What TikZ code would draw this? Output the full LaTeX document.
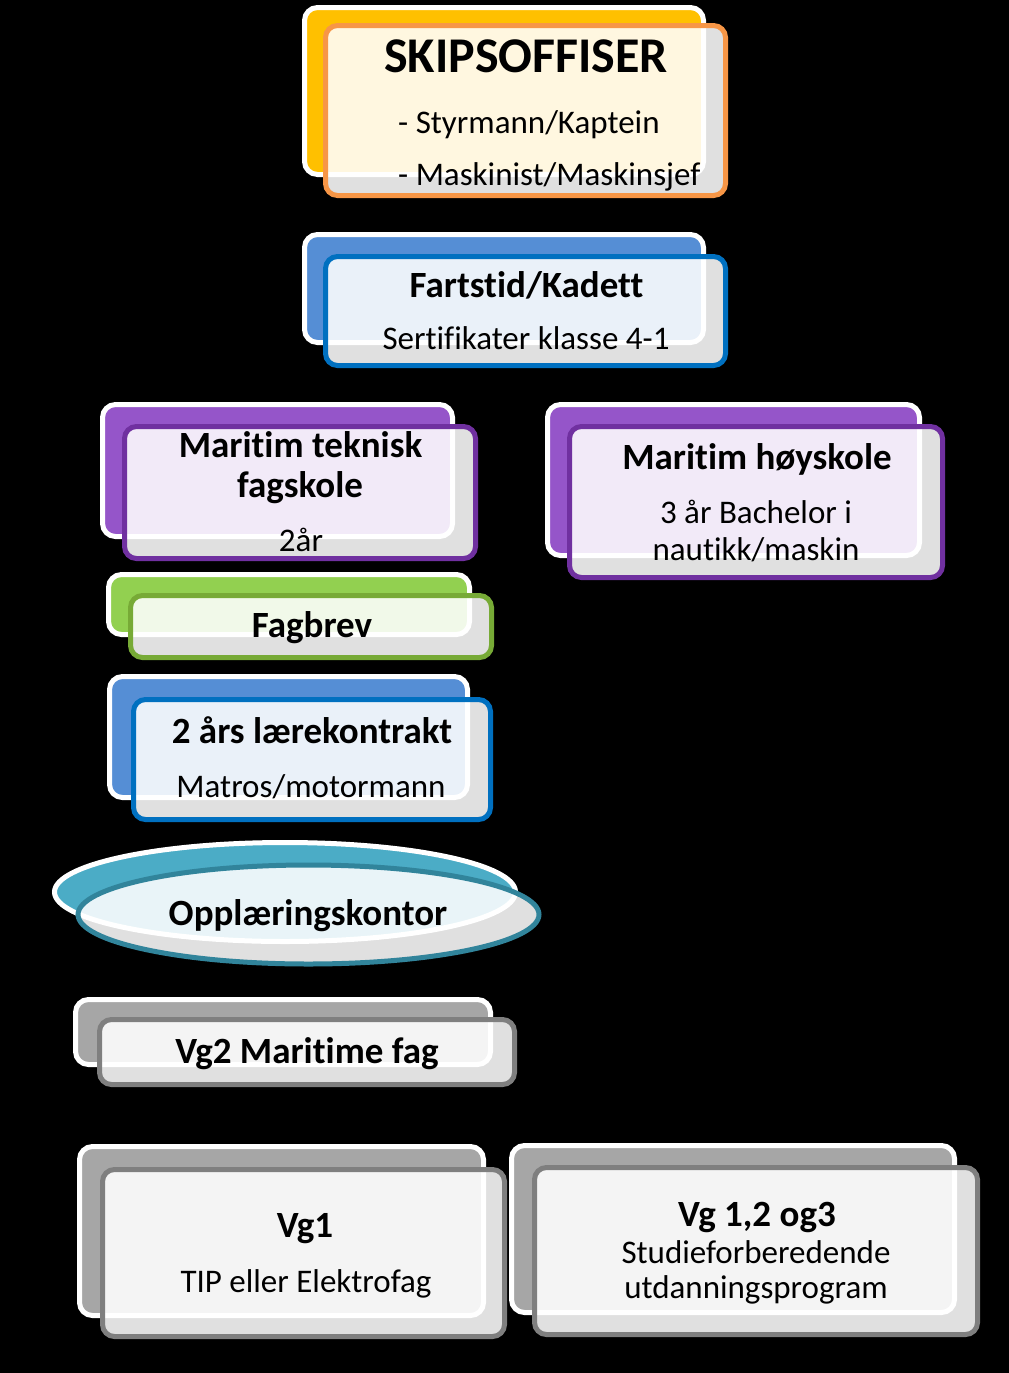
\documentclass[tikz,border=0pt]{standalone}
\usepackage{fontspec}
\setmainfont{Carlito}[Ligatures={NoCommon}]
\definecolor{cYellow}{HTML}{FFC000}
\definecolor{cOrange}{HTML}{F79646}
\definecolor{cBlueBack}{HTML}{558ED5}
\definecolor{cBlueLine}{HTML}{0070C0}
\definecolor{cPurpBack}{HTML}{9555C9}
\definecolor{cPurpLine}{HTML}{7030A0}
\definecolor{cGreenBack}{HTML}{92D050}
\definecolor{cGreenLine}{HTML}{77AA36}
\definecolor{cTealBack}{HTML}{4BACC6}
\definecolor{cTealLine}{HTML}{31849B}
\definecolor{cGrayBack}{HTML}{A6A6A6}
\definecolor{cGrayLine}{HTML}{7F7F7F}
\tikzset{
  backbox/.style={draw=white, line width=5pt, rounded corners=13pt},
  frontbox/.style={fill=white, fill opacity=0.88, line width=5pt, rounded corners=12pt},
  title/.style={font=\fontsize{50}{56}\selectfont\bfseries, inner sep=0pt, anchor=base},
  head/.style={font=\fontsize{37}{42}\selectfont\bfseries, inner sep=0pt, anchor=base},
  sub/.style={font=\fontsize{33}{38}\selectfont, inner sep=0pt, anchor=base},
}
\begin{document}
\begin{tikzpicture}[x=1pt,y=-1pt]
\fill[black] (0,0) rectangle (1009,1373);
\useasboundingbox (0,0) rectangle (1009,1373);

% SKIPSOFFISER
\draw[backbox, fill=cYellow] (304.5,7.5) rectangle (703.5,174.5);
\draw[frontbox, draw=cOrange] (325.5,25.5) rectangle (725.5,195.5);
\node[title] (skip) at (526,72) {SKIPSOFFISER};
\node[sub, anchor=base west] (styr) at (398,133) {- Styrmann/Kaptein};
\node[sub, anchor=base west] (mask) at (398,185) {- Maskinist/Maskinsjef};

% Fartstid
\draw[backbox, fill=cBlueBack] (304.5,234.5) rectangle (703.5,342.5);
\draw[frontbox, draw=cBlueLine] (325.5,256.5) rectangle (725.5,365.5);
\node[head] (fart) at (526.5,297) {Fartstid/Kadett};
\node[sub] (sert) at (526,349) {Sertifikater klasse 4-1};

% Maritim teknisk fagskole
\draw[backbox, fill=cPurpBack] (102.5,404.5) rectangle (452.5,536.5);
\draw[frontbox, draw=cPurpLine] (124.5,426.5) rectangle (475.5,558.5);
\node[head] (mtf1) at (300.5,457) {Maritim teknisk};
\node[head] (mtf2) at (300,497) {fagskole};
\node[sub] (mtf3) at (301,551) {2år};

% Maritim hoyskole
\draw[backbox, fill=cPurpBack] (547.5,404.5) rectangle (919.5,555.5);
\draw[frontbox, draw=cPurpLine] (569.5,426.5) rectangle (942.5,577.5);
\node[head] (mh1) at (757,469) {Maritim høyskole};
\node[sub] (mh2) at (756,523) {3 år Bachelor i};
\node[sub] (mh3) at (756,560) {nautikk/maskin};

% Fagbrev
\draw[backbox, fill=cGreenBack] (108.5,574.5) rectangle (469.5,634.5);
\draw[frontbox, draw=cGreenLine] (130.5,595.5) rectangle (491.5,657.5);
\node[head] (fag) at (312,637) {Fagbrev};

% 2 ars laerekontrakt
\draw[backbox, fill=cBlueBack] (109.5,676.5) rectangle (467.5,797.5);
\draw[frontbox, draw=cBlueLine] (133.5,699.5) rectangle (490.5,819.5);
\node[head] (lk1) at (312,743) {2 års lærekontrakt};
\node[sub] (lk2) at (311,797) {Matros/motormann};

% Opplaeringskontor
\draw[draw=white, line width=5pt, fill=cTealBack] (285,892) ellipse [x radius=230.5, y radius=49.5];
\draw[fill=white, fill opacity=0.88, line width=5pt, draw=cTealLine] (308.5,914.5) ellipse [x radius=230.5, y radius=49.5];
\node[head] (opp) at (308,925) {Opplæringskontor};

% Vg2
\draw[backbox, fill=cGrayBack] (75.5,999.5) rectangle (490.5,1064.5);
\draw[frontbox, draw=cGrayLine] (99.5,1019.5) rectangle (514.5,1084.5);
\node[head] (vg2) at (307,1063) {Vg2 Maritime fag};

% Vg1
\draw[backbox, fill=cGrayBack] (79.5,1146.5) rectangle (483.5,1315.5);
\draw[frontbox, draw=cGrayLine] (102.5,1169.5) rectangle (504.5,1336.5);
\node[head] (vg1a) at (305,1237) {Vg1};
\node[sub] (vg1b) at (306,1292) {TIP eller Elektrofag};

% Vg 1,2 og3
\draw[backbox, fill=cGrayBack] (511.5,1145.5) rectangle (954.5,1312.5);
\draw[frontbox, draw=cGrayLine] (534.5,1167.5) rectangle (977.5,1334.5);
\node[head] (vg3a) at (757,1226) {Vg 1,2 og3};
\node[sub] (vg3b) at (756,1263) {Studieforberedende};
\node[sub] (vg3c) at (756,1298) {utdanningsprogram};
\end{tikzpicture}
\end{document}
